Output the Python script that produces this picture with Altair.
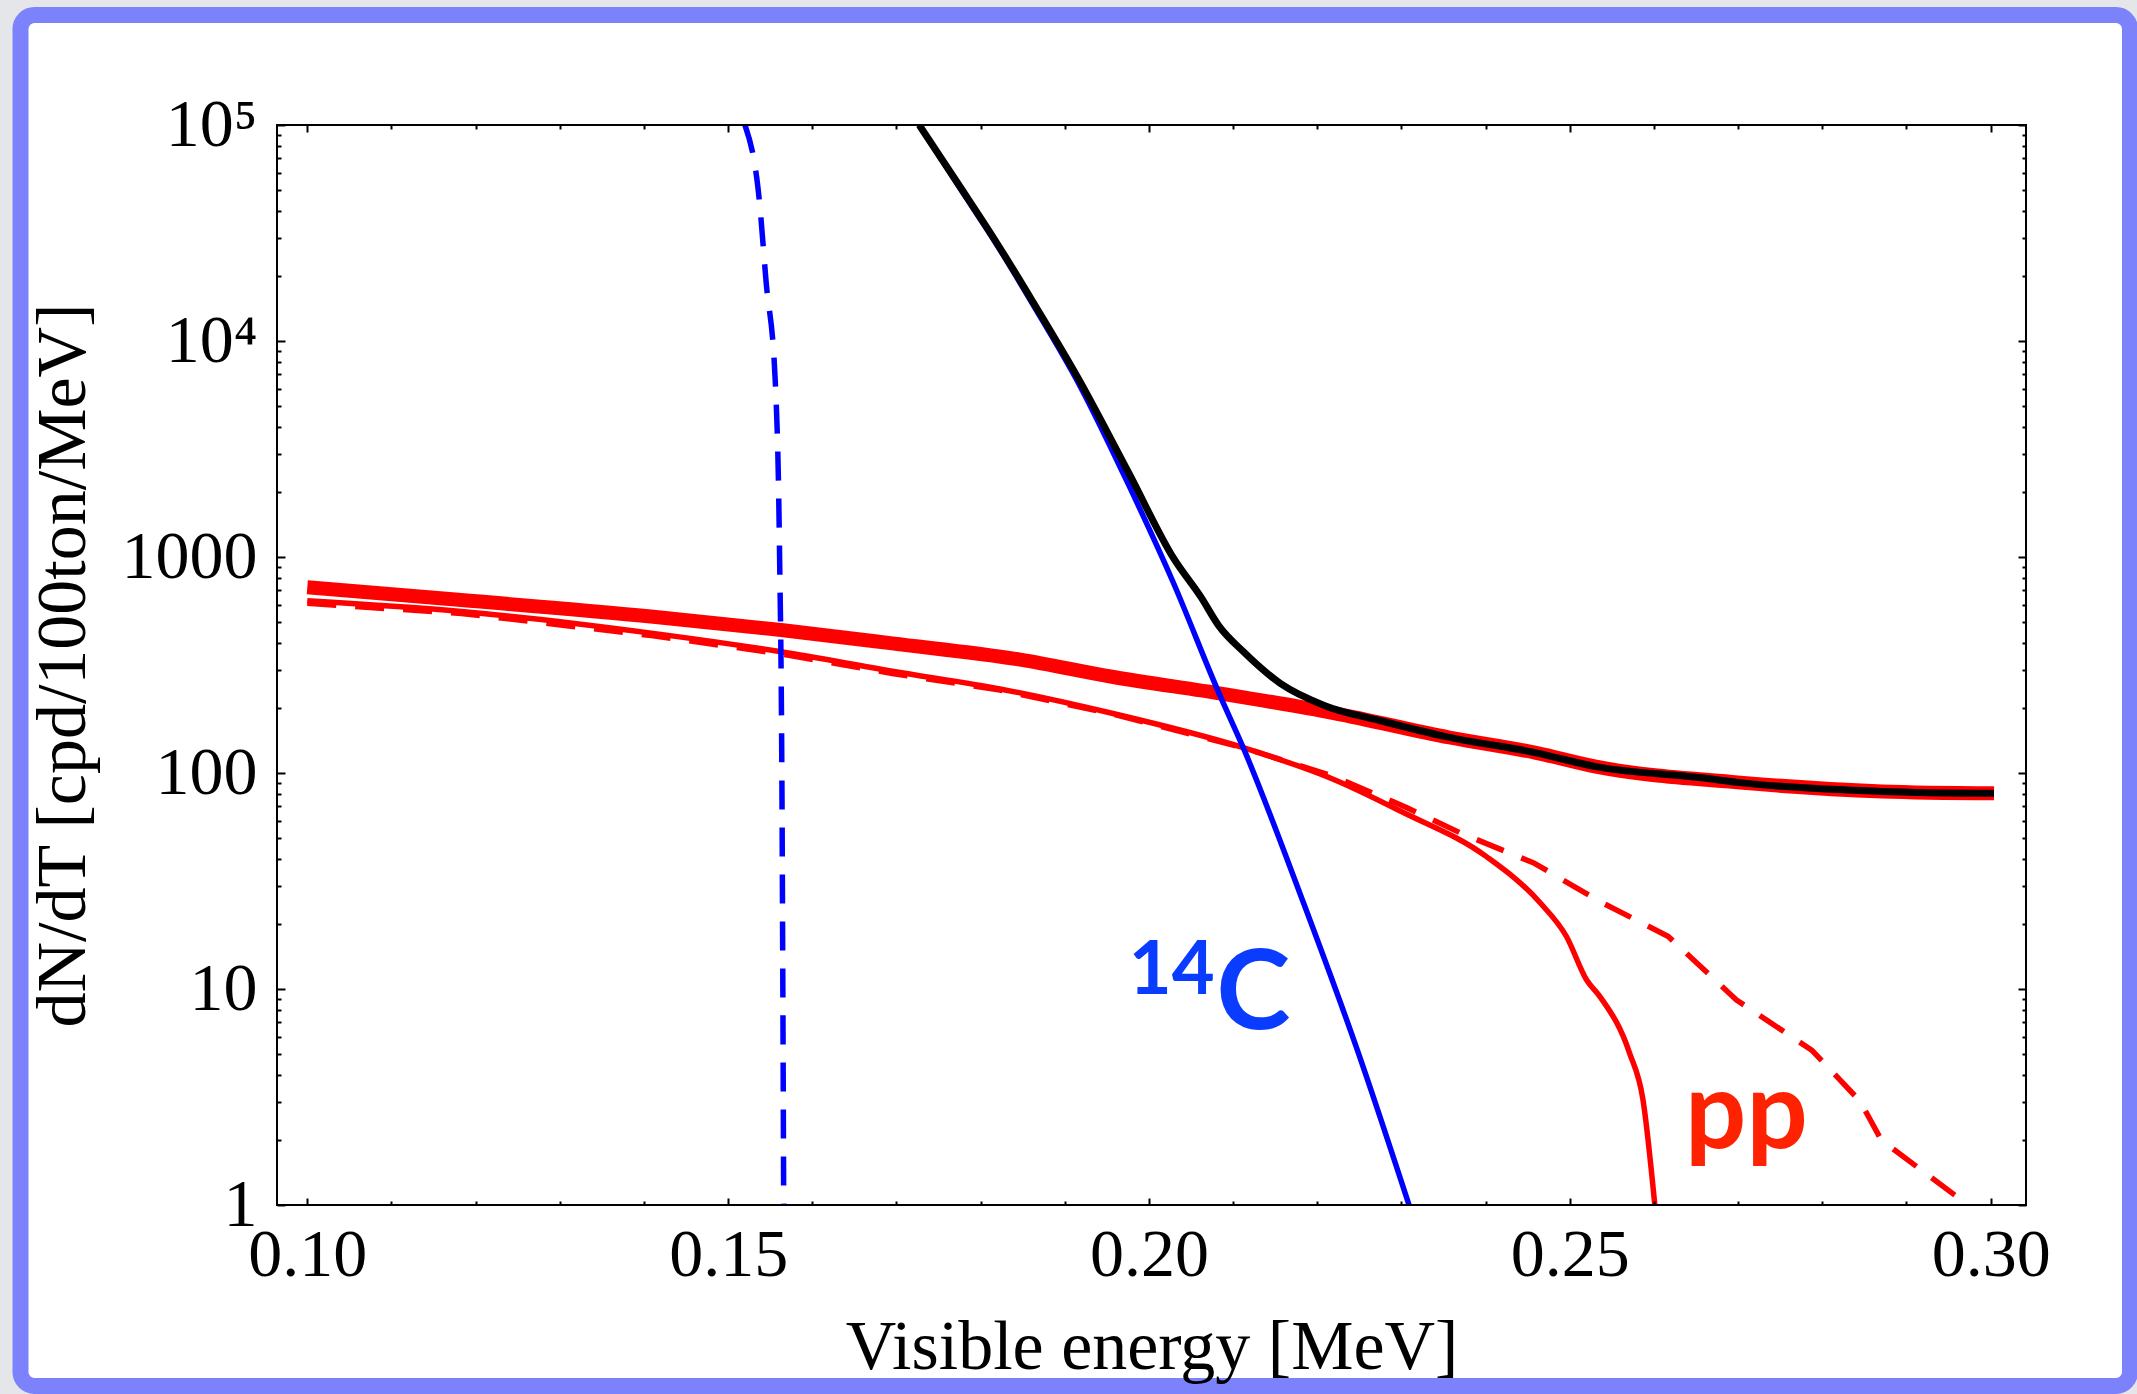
import altair as alt
import pandas as pd

# ---------------- data ----------------
# thick red: pp total (upper red curve)
thick_x = [0.1000, 0.1183, 0.1411, 0.1563, 0.1695, 0.1847, 0.1956, 0.2089, 0.2221, 0.2357, 0.2460, 0.2531, 0.2699, 0.2871, 0.3004]
thick_y = [724, 632, 529, 459, 398, 335, 279, 232, 189, 146, 124, 107, 90.5, 82.2, 80.5]

# thin red solid: pp
thin_x = [0.1000, 0.1183, 0.1411, 0.1563, 0.1695, 0.1823, 0.1956, 0.2112, 0.2221, 0.2301, 0.2401, 0.2465, 0.2496, 0.2520, 0.2536, 0.2571, 0.2587, 0.2601]
thin_y = [628, 560, 443, 364, 296, 245, 189, 131, 92.9, 66, 41, 25, 17.5, 11, 9.2, 5.05, 3.06, 1.0]

# red dashed: pp (other resolution)
rdash_x = [0.1000, 0.1183, 0.1411, 0.1563, 0.1695, 0.1823, 0.1956, 0.2112, 0.2221, 0.2306, 0.2370, 0.2458, 0.2535, 0.2617, 0.2698, 0.2788, 0.2845, 0.2870, 0.2973]
rdash_y = [610, 548, 432, 356, 289, 242, 188, 131, 96, 69.2, 52.8, 38.2, 25.5, 17.5, 8.9, 5.19, 3.02, 2.0, 1.0]

# blue solid: 14C
c14_x = [0.1727, 0.1774, 0.1819, 0.1862, 0.1918, 0.1976, 0.2029, 0.2083, 0.2112, 0.2184, 0.2248, 0.2309]
c14_y = [100000, 52000, 28000, 14800, 6200, 2150, 760, 235, 131, 24.8, 5.16, 1.0]

# blue dashed: 14C (other case)
c14d_x = [0.1520, 0.1537, 0.1545, 0.1556, 0.1561, 0.1564, 0.1565, 0.1566]
c14d_y = [100000, 45000, 19000, 6500, 1100, 75, 10, 1.0]

# black: total
tot_x = [0.1727, 0.1774, 0.1819, 0.1862, 0.1918, 0.1976, 0.2029, 0.2062, 0.2083, 0.2112, 0.2156, 0.2209, 0.2274, 0.2354, 0.2460, 0.2531, 0.2656, 0.2699, 0.2871, 0.3004]
tot_y = [100000, 52900, 28500, 15200, 6500, 2450, 990, 650, 480, 365, 260, 205, 175, 147, 124, 107, 95, 90.5, 82.2, 80.5]

# ticks
x_major = [0.10, 0.15, 0.20, 0.25, 0.30]
x_minor = [0.11, 0.12, 0.13, 0.14, 0.16, 0.17, 0.18, 0.19, 0.21, 0.22, 0.23, 0.24, 0.26, 0.27, 0.28, 0.29]
y_major = [1, 10, 100, 1000, 10000, 100000]
y_minor = [2, 3, 4, 5, 6, 7, 8, 9, 20, 30, 40, 50, 60, 70, 80, 90,
           200, 300, 400, 500, 600, 700, 800, 900,
           2000, 3000, 4000, 5000, 6000, 7000, 8000, 9000,
           20000, 30000, 40000, 50000, 60000, 70000, 80000, 90000]

# annotations (text, energy, rate)
ann_c14_sup = ("14", 0.1976, 9.48)
ann_c14 = ("C", 0.2080, 6.5)
ann_pp = ("pp", 0.2637, 1.83)

# ---------------- layout ----------------
W, H = 1749, 1080
SERIF = "Liberation Serif"
SANS = "Lato"
xs = alt.Scale(domain=[0.0964, 0.3042], nice=False, zero=False)
ys = alt.Scale(type="log", domain=[1, 100000], nice=False)


def df_of(x, y):
    return pd.DataFrame({"E": x, "R": y})


def xenc(axis):
    return alt.X("E:Q", scale=xs, axis=axis)


def yenc(axis):
    return alt.Y("R:Q", scale=ys, axis=axis)


tick_common = dict(domain=False, grid=False, tickColor="black", tickWidth=2, zindex=2)

ax_bottom = alt.Axis(orient="bottom", values=x_major, format=".2f", tickSize=7, offset=-7,
                     labelFont=SERIF, labelFontSize=68, labelColor="black", labelPadding=16,
                     labelFlush=False, labelOverlap=False,
                     title="Visible energy [MeV]", titleFont=SERIF, titleFontSize=70,
                     titleFontWeight="normal", titleColor="black", titleBaseline="alphabetic",
                     titleY=170, **tick_common)
ax_bottom_minor = alt.Axis(orient="bottom", values=x_minor, tickSize=4, offset=-4, labels=False,
                           title="", **tick_common)
ax_top = alt.Axis(orient="top", values=x_major, tickSize=7, offset=-7, labels=False, title="", **tick_common)
ax_top_minor = alt.Axis(orient="top", values=x_minor, tickSize=4, offset=-4, labels=False, title="", **tick_common)

ylab = ("datum.value >= 100000 ? '10\u2075' : datum.value >= 10000 ? '10\u2074' : "
        "format(datum.value, 'd')")
ax_left = alt.Axis(orient="left", values=y_major, labelExpr=ylab, tickSize=8, offset=-8,
                   labelFont=SERIF, labelFontSize=68, labelColor="black", labelPadding=20,
                   labelFlush=False, labelOverlap=False, labelBaseline="middle",
                   title="dN/dT [cpd/100ton/MeV]", titleFont=SERIF, titleFontSize=70,
                   titleFontWeight="normal", titleColor="black", titleBaseline="alphabetic",
                   titleX=-201, **tick_common)
ax_left_minor = alt.Axis(orient="left", values=y_minor, tickSize=4, offset=-4, labels=False,
                         title="", **tick_common)
ax_right = alt.Axis(orient="right", values=y_major, tickSize=8, offset=-8, labels=False, title="", **tick_common)
ax_right_minor = alt.Axis(orient="right", values=y_minor, tickSize=4, offset=-4, labels=False, title="", **tick_common)

# ---------------- layers ----------------
frame = alt.Chart(alt.Data(values=[{"k": 1}])).mark_rect(
    fill="white", stroke="#7c82fb", strokeWidth=16, cornerRadius=14
).encode(x=alt.value(-256.5), x2=alt.value(1853), y=alt.value(-110), y2=alt.value(1261))


def curve(x, y, color, width, dash=None, interp="monotone", xa=None, ya=None):
    props = dict(color=color, strokeWidth=width, clip=True, strokeJoin="round", interpolate=interp)
    if dash is not None:
        props["strokeDash"] = dash
    return alt.Chart(df_of(x, y)).mark_line(**props).encode(
        x=xenc(xa), y=yenc(ya), order=alt.Order("E:Q"))


thin = curve(thin_x, thin_y, "#ff0000", 5.5)
rdash = curve(rdash_x, rdash_y, "#ff0000", 5.5, dash=[29, 19], interp="linear")
thick = curve(thick_x, thick_y, "#ff0000", 14, xa=ax_bottom, ya=ax_left)
c14d = curve(c14d_x, c14d_y, "#0000ff", 5.5, dash=[29, 18])
c14 = curve(c14_x, c14_y, "#0000ff", 5.5)
tot = curve(tot_x, tot_y, "#000000", 7)


def host(xa, ya):
    return alt.Chart(df_of(thick_x, thick_y)).mark_line(strokeOpacity=0).encode(
        x=xenc(xa), y=yenc(ya))


host1 = host(ax_bottom_minor, ax_left_minor)
host2 = host(ax_top, ax_right)
host3 = host(ax_top_minor, ax_right_minor)

plot_frame = alt.Chart(alt.Data(values=[{"k": 1}])).mark_rect(
    fillOpacity=0, stroke="black", strokeWidth=2
).encode(x=alt.value(0), x2=alt.value(W), y=alt.value(0), y2=alt.value(H))


def label(spec, color, size):
    t, e, r = spec
    return alt.Chart(pd.DataFrame({"E": [e], "R": [r], "t": [t]})).mark_text(
        font=SANS, fontWeight="bold", fontSize=size, color=color, align="left",
        baseline="alphabetic"
    ).encode(x=xenc(None), y=yenc(None), text="t:N")


lab1 = label(ann_c14_sup, "#0a3cff", 74)
lab2 = label(ann_c14, "#0a3cff", 112)
lab3 = label(ann_pp, "#ff2200", 108)

chart = alt.layer(
    frame, thin, rdash, thick, c14d, c14, tot, host1, host2, host3, plot_frame, lab1, lab2, lab3
).resolve_axis(
    x="independent", y="independent"
).properties(
    width=W, height=H, background="#e4e6ea",
    padding={"left": 277, "top": 125, "right": 111, "bottom": 189},
    autosize=alt.AutoSizeParams(type="none"),
).configure_view(strokeWidth=0)

chart.save("out.html", embed_options={"renderer": "svg", "actions": False})
